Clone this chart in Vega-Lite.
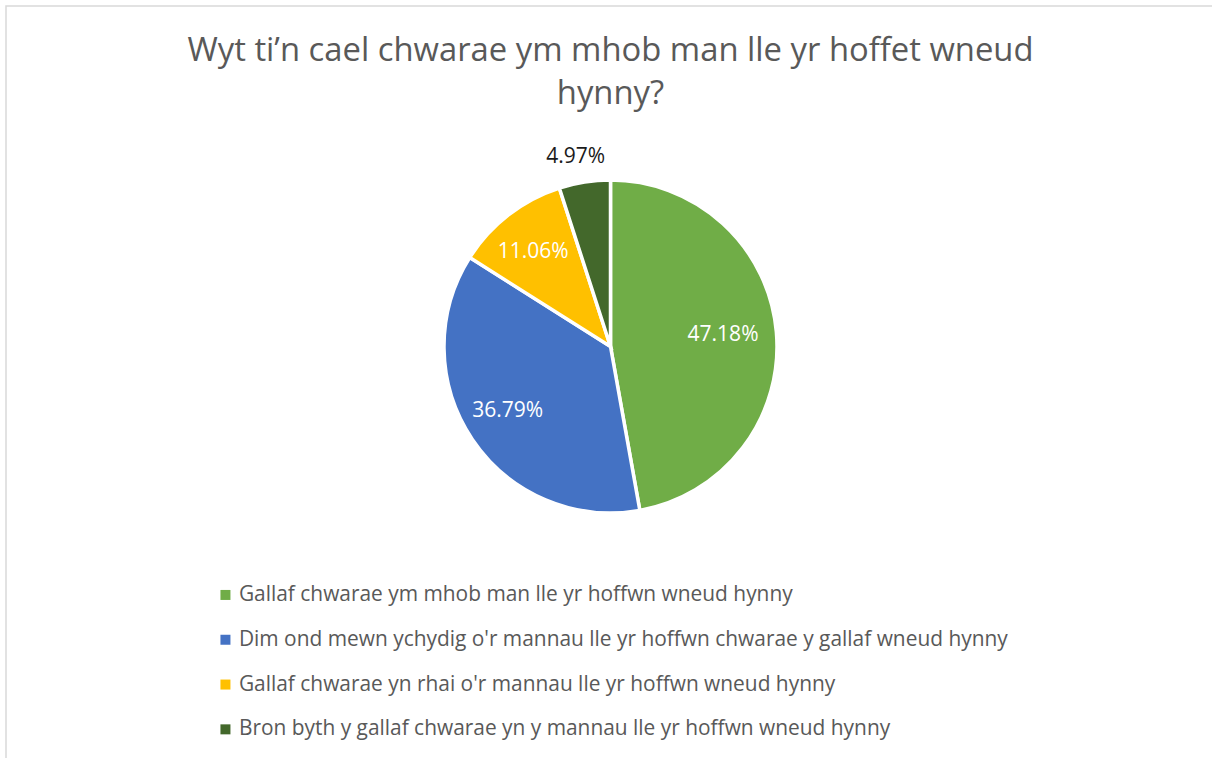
{
  "$schema": "https://vega.github.io/schema/vega-lite/v6.json",
  "autosize": {"type": "none"},
  "padding": {"left": 6, "top": 6, "right": 0, "bottom": 0},
  "width": 1209,
  "height": 760,
  "background": "white",
  "view": {"stroke": "#d9d9d9", "strokeWidth": 1.5, "fill": null},
  "config": {
    "font": "Open Sans"
  },
  "title": {
    "text": ["Wyt ti’n cael chwarae ym mhob man lle yr hoffet wneud", "hynny?"],
    "font": "Open Sans",
    "fontSize": 32.8,
    "fontWeight": "normal",
    "color": "#595959",
    "lineHeight": 43,
    "anchor": "middle",
    "frame": "group",
    "baseline": "alphabetic",
    "offset": -131
  },
  "data": {
    "values": [
      {"category": "Gallaf chwarae ym mhob man lle yr hoffwn wneud hynny", "value": 0.4718, "rank": 1},
      {"category": "Dim ond mewn ychydig o'r mannau lle yr hoffwn chwarae y gallaf wneud hynny", "value": 0.3679, "rank": 2},
      {"category": "Gallaf chwarae yn rhai o'r mannau lle yr hoffwn wneud hynny", "value": 0.1106, "rank": 3},
      {"category": "Bron byth y gallaf chwarae yn y mannau lle yr hoffwn wneud hynny", "value": 0.0497, "rank": 4}
    ]
  },
  "encoding": {
    "theta": {"field": "value", "type": "quantitative", "stack": true},
    "order": {"field": "rank", "type": "quantitative"}
  },
  "layer": [
    {
      "mark": {"type": "arc", "outerRadius": 166.5, "x": 604.5, "y": 340.5, "stroke": "white", "strokeWidth": 3.5},
      "encoding": {
        "color": {
          "field": "category",
          "type": "nominal",
          "scale": {
            "domain": [
              "Gallaf chwarae ym mhob man lle yr hoffwn wneud hynny",
              "Dim ond mewn ychydig o'r mannau lle yr hoffwn chwarae y gallaf wneud hynny",
              "Gallaf chwarae yn rhai o'r mannau lle yr hoffwn wneud hynny",
              "Bron byth y gallaf chwarae yn y mannau lle yr hoffwn wneud hynny"
            ],
            "range": ["#70AD47", "#4472C4", "#FFC000", "#43682B"]
          },
          "legend": {
            "title": null,
            "orient": "none",
            "legendX": 209,
            "legendY": 578.5,
            "symbolType": "square",
            "symbolSize": 100,
            "symbolStrokeWidth": 0,
            "labelFont": "Open Sans",
            "labelFontSize": 20.9,
            "labelColor": "#595959",
            "labelLimit": 1000,
            "labelOffset": 3,
            "rowPadding": 22.8
          }
        }
      }
    },
    {
      "mark": {"type": "text", "radius": 118, "x": 604.5, "y": 340.5, "dx": -5, "dy": -1, "font": "Open Sans", "fontSize": 21, "fill": "white"},
      "encoding": {
        "text": {
          "condition": {"test": "datum.value < 0.06", "value": ""},
          "field": "value",
          "type": "quantitative",
          "format": ".2%"
        }
      }
    },
    {
      "mark": {"type": "text", "radius": 192, "x": 604.5, "y": 340.5, "dx": -5, "font": "Open Sans", "fontSize": 21, "fill": "#1a1a1a"},
      "encoding": {
        "text": {
          "condition": {"test": "datum.value >= 0.06", "value": ""},
          "field": "value",
          "type": "quantitative",
          "format": ".2%"
        }
      }
    }
  ]
}
